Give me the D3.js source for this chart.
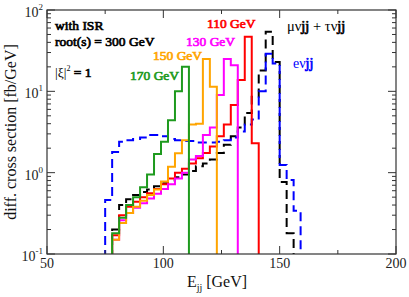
<!DOCTYPE html>
<html><head><meta charset="utf-8">
<script src="https://cdn.jsdelivr.net/npm/d3@7"></script>
<style>body{margin:0;background:#fff}svg{display:block}text{font-family:"Liberation Serif","Times New Roman",serif}</style>
</head><body>
<script>
// ---- data ----
const binWidth = 3;
const blueStart = 75;
const blueVals = [0.46,1.8,2.4,2.5,2.6,2.7,2.9,2.9,2.8,2.6,2.5,2.45,2.45,2.35,2.35,2.35,2.4,2.5,2.7,3.2,3.9,4.5,10,29,22,1.24,0.81,0.34];
const blackStart = 78;
const blackVals = [0.2,0.4,0.47,0.53,0.58,0.62,0.68,0.74,0.8,0.88,0.95,1.05,1.2,1.3,1.45,1.75,2.2,2.8,3.6,5.4,8.6,18,54,23,0.77,0.18];
const redStart = 78;
const redVals = [0.17,0.3,0.38,0.44,0.5,0.56,0.63,0.72,0.85,1.0,1.12,1.3,1.5,1.75,2.1,2.8,3.9,6.8,13.8,47,2.3];
const magStart = 78;
const magVals = [0.15,0.26,0.32,0.37,0.42,0.48,0.55,0.63,0.72,0.85,1.0,1.45,1.6,2.9,3.6,9.0,25,21];
const orangeStart = 78;
const orangeVals = [0.15,0.24,0.32,0.38,0.45,0.53,0.62,0.78,1.18,1.73,2.5,3.9,4.0,25,11.4];
const greenStart = 78;
const greenVals = [0.18,0.28,0.4,0.5,0.66,0.95,1.7,2.4,4.4,10,20];
const xTicks = [50,100,150,200];
const xMinor = [75,125,175];
const yTicks = [0.1,1,10,100];
const yTickExp = ["-1","0","1","2"];
const signalLabels = ["170 GeV","150 GeV","130 GeV","110 GeV"];

// ---- chart ----
const W=409,H=297;
const m={l:47,r:13,t:10,b:43};
const svg=d3.select("body").append("svg").attr("width",W).attr("height",H);
const x=d3.scaleLinear().domain([50,200]).range([m.l,W-m.r]);
const y=d3.scaleLog().domain([0.1,100]).range([H-m.b,m.t]);
const x0=m.l,x1=W-m.r,y0=H-m.b,y1=m.t;

svg.append("defs").append("clipPath").attr("id","clip").append("rect")
  .attr("x",x0).attr("y",y1).attr("width",x1-x0).attr("height",y0-y1);

function stepPath(start,vals){
  const pts=[];
  const yb=y(0.1)+5;
  pts.push([x(start),yb]);
  vals.forEach((v,i)=>{
    const a=start+i*binWidth,b=a+binWidth;
    pts.push([x(a),y(v)]);pts.push([x(b),y(v)]);
  });
  pts.push([x(start+vals.length*binWidth),yb]);
  return d3.line()(pts);
}
const g=svg.append("g").attr("clip-path","url(#clip)");
const series=[
  {s:blackStart,v:blackVals,c:"#000",dash:"9,5"},
  {s:blueStart,v:blueVals,c:"#0000ff",dash:"9,5"},
  {s:redStart,v:redVals,c:"#ff0000"},
  {s:magStart,v:magVals,c:"#ff00ff"},
  {s:orangeStart,v:orangeVals,c:"#ffa500"},
  {s:greenStart,v:greenVals,c:"#1e9a1e"}
];
series.forEach(d=>{
  g.append("path").attr("d",stepPath(d.s,d.v)).attr("fill","none")
   .attr("stroke",d.c).attr("stroke-width",2).attr("stroke-dasharray",d.dash||null)
   .attr("stroke-linejoin","miter");
});

// frame
const ax="#333";
svg.append("rect").attr("x",x0).attr("y",y1).attr("width",x1-x0).attr("height",y0-y1)
  .attr("fill","none").attr("stroke",ax).attr("stroke-width",1.2);

// x ticks (bottom and top, inward)
const tg=svg.append("g").attr("stroke",ax).attr("stroke-width",1);
xTicks.forEach(t=>{
  tg.append("line").attr("x1",x(t)).attr("x2",x(t)).attr("y1",y0).attr("y2",y0-8);
  tg.append("line").attr("x1",x(t)).attr("x2",x(t)).attr("y1",y1).attr("y2",y1+8);
});
xMinor.forEach(t=>{
  tg.append("line").attr("x1",x(t)).attr("x2",x(t)).attr("y1",y0).attr("y2",y0-4);
  tg.append("line").attr("x1",x(t)).attr("x2",x(t)).attr("y1",y1).attr("y2",y1+4);
});
// y ticks
yTicks.forEach(t=>{
  tg.append("line").attr("x1",x0).attr("x2",x0+8).attr("y1",y(t)).attr("y2",y(t));
  tg.append("line").attr("x1",x1).attr("x2",x1-8).attr("y1",y(t)).attr("y2",y(t));
});
[0.1,1,10].forEach(dec=>{
  for(let k=2;k<=9;k++){
    const v=dec*k;
    tg.append("line").attr("x1",x0).attr("x2",x0+4).attr("y1",y(v)).attr("y2",y(v));
    tg.append("line").attr("x1",x1).attr("x2",x1-4).attr("y1",y(v)).attr("y2",y(v));
  }
});
// x tick labels
xTicks.forEach(t=>{
  svg.append("text").attr("x",x(t)).attr("y",y0+14).attr("text-anchor","middle")
    .attr("font-size",14).attr("fill","#222").text(t);
});
// y tick labels
yTicks.forEach((t,i)=>{
  const tx=svg.append("text").attr("x",x0-4).attr("y",y(t)+7).attr("text-anchor","end")
    .attr("font-size",14).attr("fill","#222");
  tx.append("tspan").text("10");
  tx.append("tspan").attr("dy",-7).attr("font-size",9).text(yTickExp[i]);
});
// axis titles
svg.append("text").attr("transform",`translate(16,${(y0+y1)/2}) rotate(-90)`)
  .attr("text-anchor","middle").attr("font-size",16).attr("fill","#111")
  .text("diff. cross section [fb/GeV]");
const xt=svg.append("text").attr("x",217).attr("y",287).attr("text-anchor","middle")
  .attr("font-size",16).attr("fill","#111");
xt.append("tspan").text("E");
xt.append("tspan").attr("dy",4).attr("font-size",10).text("jj");
xt.append("tspan").attr("dy",-4).text(" [GeV]");

// annotations (serif, emboldened with a thin stroke)
function bold(sel,col){return sel.attr("fill",col).attr("stroke",col).attr("stroke-width",0.7).attr("paint-order","stroke");}
const b=svg.append("g").attr("font-size",13.5).attr("font-family","'Liberation Serif',serif");
bold(b.append("text").attr("x",55).attr("y",30).text("with ISR"),"#000");
bold(b.append("text").attr("x",55).attr("y",46).text("root(s) = 300 GeV"),"#000");
const xi=b.append("text").attr("x",55).attr("y",77);
xi.append("tspan").text("|ξ|");
xi.append("tspan").attr("dy",-6).attr("font-size",8).text("2");
bold(xi.append("tspan").attr("dy",6).text(" = 1"),"#000");
bold(b.append("text").attr("x",130).attr("y",80).text(signalLabels[0]),"#1e9a1e");
bold(b.append("text").attr("x",153).attr("y",60).text(signalLabels[1]),"#ffa500");
bold(b.append("text").attr("x",186).attr("y",46).text(signalLabels[2]),"#ff00ff");
bold(b.append("text").attr("x",207).attr("y",28).text(signalLabels[3]),"#ff0000");
const mu=svg.append("text").attr("x",287).attr("y",31).attr("font-size",14.5).attr("fill","#000");
mu.append("tspan").text("μν");
bold(mu.append("tspan").text("jj"),"#000");
mu.append("tspan").text(" + τν");
bold(mu.append("tspan").text("jj"),"#000");
const ev=svg.append("text").attr("x",293).attr("y",68).attr("font-size",14).attr("fill","#0000ff");
ev.append("tspan").text("eν");
bold(ev.append("tspan").text("jj"),"#0000ff");
</script>
</body></html>
